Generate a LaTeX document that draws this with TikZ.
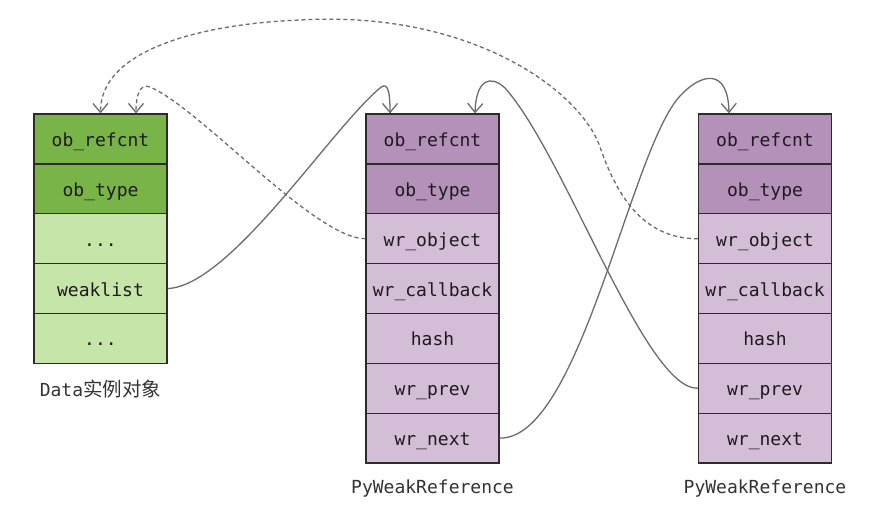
\documentclass[tikz,border=0pt]{standalone}
\usepackage{fontspec}
\setmonofont{DejaVu Sans Mono}
\newfontfamily\cjk{Noto Sans CJK SC}
\usetikzlibrary{arrows.meta}
\definecolor{gdark}{HTML}{79B448}
\definecolor{glight}{HTML}{C6E5A8}
\definecolor{pdark}{HTML}{B391B9}
\definecolor{plight}{HTML}{D4BDD6}
\definecolor{boxline}{HTML}{2E2A2E}
\definecolor{txt}{HTML}{1E1A1E}
\definecolor{link}{HTML}{6C6C6C}
\definecolor{lbl}{HTML}{333333}
\begin{document}
\begin{tikzpicture}[x=1pt,y=-1pt,
  cell/.style={draw=boxline, line width=1.3pt, minimum width=133pt, minimum height=49.85pt,
    inner sep=0pt, text height=17pt, text depth=2pt,
    font=\ttfamily\fontsize{18}{20}\selectfont, text=txt},
  gd/.style={cell, fill=gdark}, gl/.style={cell, fill=glight},
  pd/.style={cell, fill=pdark}, pl/.style={cell, fill=plight},
  caption/.style={font=\ttfamily\fontsize{18}{20}\selectfont, text=lbl, inner sep=0pt, anchor=base},
  link/.style={draw=link, line width=1.3pt, -{Straight Barb[length=9pt,width=15pt]}},
  weak/.style={link, dash pattern=on 4pt off 3pt}]
\useasboundingbox (0,0) rectangle (894,522);
% Data instance
\node[gd] (d1) at (100.5,139) {ob\_refcnt};
\node[gd] (d2) at (100.5,188.85) {ob\_type};
\node[gl] (d3) at (100.5,238.7) {...};
\node[gl] (d4) at (100.5,288.55) {weaklist};
\node[gl] (d5) at (100.5,338.4) {...};
\node[caption] (dcap) at (100.5,396) {Data{\cjk\fontsize{19.5}{21}\selectfont 实例对象}};
% first PyWeakReference
\node[pd] (a1) at (432.5,139) {ob\_refcnt};
\node[pd] (a2) at (432.5,188.85) {ob\_type};
\node[pl] (a3) at (432.5,238.7) {wr\_object};
\node[pl] (a4) at (432.5,288.55) {wr\_callback};
\node[pl] (a5) at (432.5,338.4) {hash};
\node[pl] (a6) at (432.5,388.25) {wr\_prev};
\node[pl] (a7) at (432.5,438.1) {wr\_next};
\node[caption] (acap) at (432.5,493) {PyWeakReference};
% second PyWeakReference
\node[pd] (b1) at (765,139) {ob\_refcnt};
\node[pd] (b2) at (765,188.85) {ob\_type};
\node[pl] (b3) at (765,238.7) {wr\_object};
\node[pl] (b4) at (765,288.55) {wr\_callback};
\node[pl] (b5) at (765,338.4) {hash};
\node[pl] (b6) at (765,388.25) {wr\_prev};
\node[pl] (b7) at (765,438.1) {wr\_next};
\node[caption] (bcap) at (765,493) {PyWeakReference};
% weak references (dashed)
\draw[weak] (a3.west) .. controls (315,239) and (200,108) .. (150,87)
  .. controls (140,83) and (136,95) .. ([xshift=35.5pt]d1.north);
\draw[weak] (b3.west) .. controls (640,239) and (615,190) .. (600,147)
  .. controls (580,90) and (470,10) .. (300,20)
  .. controls (200,24) and (100,50) .. (d1.north);
% weak list links (solid)
\draw[link] (d4.east) .. controls (230,286) and (330,130) .. (380,88)
  .. controls (388,81) and (390,92) .. ([xshift=-42.5pt]a1.north);
\draw[link] (a7.east) .. controls (580,440) and (630,150) .. (680,96)
  .. controls (700,74) and (728,66) .. ([xshift=-36pt]b1.north);
\draw[link] (b6.west) .. controls (645,390) and (565,155) .. (505,88)
  .. controls (490,74) and (476,80) .. ([xshift=42.5pt]a1.north);
\end{tikzpicture}
\end{document}
